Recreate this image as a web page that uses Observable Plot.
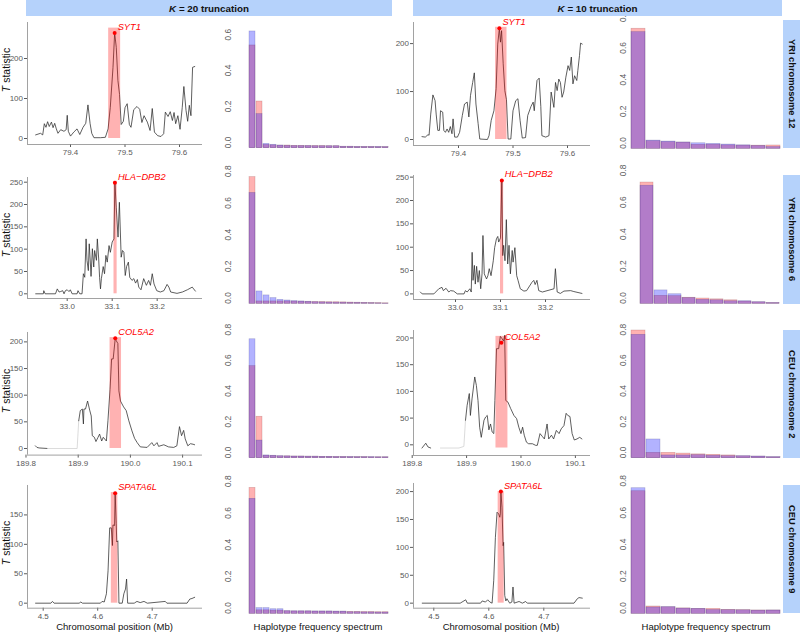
<!DOCTYPE html>
<html><head><meta charset="utf-8">
<script src="https://cdn.jsdelivr.net/npm/d3@7"></script>
<script src="https://cdn.jsdelivr.net/npm/@observablehq/plot@0.6"></script>
<style>
body{margin:0;background:#fff;}
#root{position:relative;width:800px;height:632px;overflow:hidden;font-family:"Liberation Sans",Arial,Helvetica,sans-serif;background:#fff;}
.strip{position:absolute;background:#b5d2fb;font-weight:bold;font-size:9.8px;color:#111;display:flex;align-items:center;justify-content:center;}
.rstrip{position:absolute;background:#b5d2fb;font-weight:bold;font-size:9.3px;color:#111;writing-mode:vertical-rl;display:flex;align-items:center;justify-content:center;}
.lab{position:absolute;font-size:9.5px;color:#111;white-space:nowrap;transform:translate(-50%,-50%);}
.ylab{position:absolute;font-size:10.5px;line-height:11px;color:#111;white-space:nowrap;transform:translate(-50%,-50%) rotate(-90deg);}
</style></head>
<body><div id="root"></div>
<script>
// ---------- data ----------
const truncations = [20, 10];
const rowLabels = ["YRI chromosome 12", "YRI chromosome 6", "CEU chromosome 2", "CEU chromosome 9"];
const genes = ["SYT1", "HLA\u2212DPB2", "COL5A2", "SPATA6L"];

// T statistic along chromosome: [position (Mb), T]
const syt1K20 = [[79.336,9],[79.345,13],[79.349,9],[79.352,37],[79.355,28],[79.358,42],[79.361,30],[79.365,41],[79.368,27],[79.371,38],[79.374,24],[79.377,13],[79.382,22],[79.388,18],[79.392,22],[79.394,58],[79.396,18],[79.4,6],[79.406,16],[79.412,24],[79.417,10],[79.423,28],[79.428,38],[79.432,84],[79.436,37],[79.439,13],[79.443,2],[79.455,2],[79.464,3],[79.469,24],[79.473,78],[79.478,178],[79.481,264],[79.484,228],[79.487,145],[79.49,110],[79.493,35],[79.497,43],[79.5,77],[79.504,87],[79.508,35],[79.511,28],[79.516,72],[79.522,80],[79.527,73],[79.531,40],[79.535,57],[79.541,41],[79.546,20],[79.55,75],[79.554,16],[79.56,7],[79.566,5],[79.571,12],[79.574,66],[79.579,55],[79.583,67],[79.587,45],[79.59,65],[79.593,37],[79.597,57],[79.601,23],[79.605,77],[79.608,130],[79.612,70],[79.615,43],[79.618,83],[79.621,57],[79.624,178],[79.628,180]];
const syt1K10 = [[79.333,6],[79.339,5],[79.344,10],[79.346,9],[79.349,53],[79.353,93],[79.357,81],[79.359,53],[79.362,19],[79.365,19],[79.367,60],[79.371,57],[79.373,19],[79.376,15],[79.379,22],[79.382,15],[79.385,27],[79.388,12],[79.39,43],[79.393,5],[79.398,5],[79.402,15],[79.407,50],[79.411,74],[79.416,78],[79.419,47],[79.422,92],[79.426,119],[79.429,139],[79.432,74],[79.436,33],[79.439,1],[79.453,0],[79.456,8],[79.46,40],[79.465,60],[79.469,106],[79.472,199],[79.475,232],[79.477,203],[79.479,227],[79.482,158],[79.485,102],[79.488,83],[79.491,1],[79.496,1],[79.5,60],[79.505,81],[79.509,85],[79.513,40],[79.517,3],[79.523,4],[79.527,50],[79.533,69],[79.537,78],[79.539,60],[79.544,123],[79.548,128],[79.551,69],[79.553,8],[79.56,5],[79.566,8],[79.57,99],[79.575,67],[79.578,119],[79.581,102],[79.584,126],[79.587,119],[79.59,88],[79.593,99],[79.597,130],[79.601,154],[79.604,144],[79.607,172],[79.61,116],[79.613,133],[79.617,123],[79.619,144],[79.622,175],[79.624,201],[79.627,199]];
const hlaK20 = [[32.93,0],[32.947,0],[32.948,7],[32.951,0],[32.974,0],[32.978,11],[32.982,4],[32.985,5],[32.99,7],[32.993,0],[32.996,7],[33.0,9],[33.004,5],[33.007,9],[33.011,0],[33.022,0],[33.024,7],[33.028,0],[33.033,0],[33.036,45],[33.039,37],[33.042,123],[33.044,75],[33.047,52],[33.049,112],[33.052,60],[33.053,39],[33.056,101],[33.059,60],[33.061,97],[33.065,75],[33.067,123],[33.07,78],[33.072,37],[33.074,11],[33.076,34],[33.08,61],[33.083,45],[33.086,86],[33.089,71],[33.093,108],[33.096,93],[33.1,116],[33.104,123],[33.106,249],[33.109,194],[33.113,127],[33.116,205],[33.12,82],[33.123,97],[33.126,93],[33.129,41],[33.132,61],[33.136,71],[33.139,37],[33.144,30],[33.148,34],[33.152,24],[33.156,32],[33.159,15],[33.164,9],[33.17,34],[33.176,19],[33.181,30],[33.185,19],[33.189,45],[33.193,22],[33.199,7],[33.207,4],[33.215,7],[33.222,21],[33.226,15],[33.23,4],[33.244,1],[33.256,4],[33.267,9],[33.278,15],[33.281,11],[33.285,6]];
const hlaK10 = [[32.922,4],[32.926,0],[32.952,0],[32.963,11],[32.97,14],[32.973,7],[32.979,12],[32.985,4],[32.989,7],[32.996,6],[33.004,0],[33.019,0],[33.022,7],[33.026,4],[33.032,11],[33.035,4],[33.037,89],[33.039,29],[33.042,61],[33.044,21],[33.047,59],[33.05,25],[33.053,50],[33.056,11],[33.059,43],[33.061,125],[33.064,43],[33.069,32],[33.072,39],[33.075,54],[33.079,39],[33.084,71],[33.087,99],[33.091,118],[33.094,123],[33.096,111],[33.1,120],[33.103,243],[33.105,82],[33.107,104],[33.11,71],[33.113,159],[33.116,64],[33.119,104],[33.122,43],[33.126,93],[33.128,68],[33.132,99],[33.136,39],[33.139,29],[33.144,11],[33.152,6],[33.158,7],[33.17,25],[33.174,29],[33.177,20],[33.181,29],[33.185,7],[33.193,4],[33.219,11],[33.222,54],[33.226,4],[33.233,1],[33.241,6],[33.256,7],[33.263,5],[33.281,1]];
const col5a2K20 = [[189.818,5],[189.821,2],[189.825,1],[189.841,0],[189.898,0],[189.901,52],[189.904,71],[189.908,74],[189.91,46],[189.911,74],[189.914,74],[189.918,89],[189.922,72],[189.925,61],[189.927,24],[189.931,21],[189.934,13],[189.938,21],[189.941,27],[189.945,14],[189.948,21],[189.954,14],[189.957,52],[189.961,111],[189.964,168],[189.967,168],[189.971,207],[189.973,202],[189.976,197],[189.978,108],[189.981,89],[189.987,78],[189.992,71],[189.997,52],[190.003,33],[190.008,19],[190.013,11],[190.019,3],[190.032,2],[190.041,11],[190.045,5],[190.051,11],[190.054,4],[190.064,7],[190.073,3],[190.083,2],[190.089,5],[190.094,41],[190.098,24],[190.102,34],[190.105,18],[190.11,5],[190.115,9],[190.12,8],[190.123,7]];
const col5a2K10 = [[189.818,-6],[189.825,3],[189.829,-4],[189.834,-6],[189.852,-6],[189.886,-6],[189.895,-3],[189.898,46],[189.901,74],[189.905,96],[189.907,55],[189.91,86],[189.915,127],[189.918,111],[189.921,83],[189.924,33],[189.927,14],[189.932,46],[189.935,52],[189.938,55],[189.941,28],[189.944,39],[189.947,24],[189.95,21],[189.952,83],[189.955,180],[189.959,180],[189.962,203],[189.965,199],[189.968,194],[189.97,205],[189.972,83],[189.976,80],[189.981,68],[189.987,55],[189.992,49],[189.996,33],[190.0,21],[190.003,33],[190.006,18],[190.01,5],[190.014,2],[190.021,2],[190.027,-1],[190.03,-1],[190.035,21],[190.039,16],[190.043,11],[190.048,39],[190.051,11],[190.056,18],[190.06,11],[190.065,27],[190.07,21],[190.074,30],[190.079,36],[190.083,59],[190.086,55],[190.09,53],[190.094,21],[190.098,9],[190.103,11],[190.108,14],[190.112,11]];
const spata6lK20 = [[4.486,0],[4.514,0],[4.517,3],[4.52,0],[4.566,0],[4.569,2],[4.572,0],[4.605,0],[4.608,3],[4.612,2],[4.616,16],[4.619,55],[4.622,128],[4.625,128],[4.627,98],[4.628,133],[4.631,132],[4.632,187],[4.634,135],[4.635,104],[4.637,106],[4.639,0],[4.645,0],[4.648,16],[4.651,24],[4.653,41],[4.655,0],[4.667,0],[4.672,3],[4.678,1],[4.685,3],[4.691,0],[4.724,3],[4.727,0],[4.764,0],[4.769,7],[4.773,8],[4.778,10]];
const spata6lK10 = [[4.479,0],[4.548,0],[4.553,3],[4.558,6],[4.561,0],[4.585,0],[4.588,4],[4.594,2],[4.598,6],[4.602,2],[4.606,0],[4.609,41],[4.612,118],[4.615,163],[4.618,160],[4.62,154],[4.621,160],[4.622,200],[4.624,172],[4.626,103],[4.627,109],[4.629,14],[4.631,4],[4.633,8],[4.638,0],[4.642,2],[4.644,29],[4.646,0],[4.655,3],[4.661,0],[4.667,3],[4.67,0],[4.755,0],[4.761,8],[4.764,10],[4.77,9]];

// gene regions (Mb) and band heights
const geneStartK20 = [79.470, 33.104, 189.961, 4.625];
const geneEndK20   = [79.492, 33.111, 189.983, 4.637];
const bandTopK20   = [276, 252, 208, 188];
const geneStartK10 = [79.468, 33.100, 189.954, 4.617];
const geneEndK10   = [79.489, 33.107, 189.976, 4.628];
const bandTopK10   = [234, 243, 203, 200];
const bandBottomK10 = [0, 0, -6, 0];
// highlighted peak SNPs
const peakPosK20 = [79.481, 33.106, 189.971, 4.632];
const peakTK20   = [264, 249, 207, 187];
const peakPosK10 = [79.475, 33.103, 189.964, 4.622];
const peakTK10   = [232, 243, 191, 200];

// haplotype frequency spectra (red / blue series)
const yri12K20Red  = [0.572,0.26,0.018,0.016,0.014,0.015,0.013,0.013,0.012,0.012,0.012,0.011,0.011,0.008,0.008,0.007,0.007,0.007,0.006,0.006];
const yri12K20Blue = [0.65,0.19,0.024,0.019,0.015,0.013,0.012,0.012,0.012,0.011,0.011,0.011,0.011,0.008,0.008,0.007,0.007,0.007,0.007,0.006];
const yri12K10Red  = [0.758,0.048,0.042,0.039,0.025,0.026,0.022,0.02,0.02,0.021];
const yri12K10Blue = [0.737,0.052,0.046,0.04,0.035,0.031,0.027,0.022,0.018,0.011];
const yri6K20Red   = [0.80,0.015,0.015,0.015,0.015,0.015,0.014,0.013,0.012,0.011,0.011,0.01,0.01,0.009,0.008,0.007,0.006,0.005,0.004,0.003];
const yri6K20Blue  = [0.70,0.078,0.053,0.036,0.025,0.021,0.017,0.015,0.013,0.01,0.009,0.008,0.007,0.007,0.006,0.006,0.005,0.004,0.003,0.002];
const yri6K10Red   = [0.76,0.05,0.048,0.038,0.033,0.028,0.022,0.014,0.009,0.005];
const yri6K10Blue  = [0.74,0.084,0.06,0.036,0.025,0.022,0.016,0.016,0.01,0.005];
const ceu2K20Red   = [0.60,0.27,0.016,0.015,0.012,0.012,0.011,0.011,0.01,0.01,0.009,0.009,0.008,0.008,0.007,0.007,0.007,0.006,0.006,0.006];
const ceu2K20Blue  = [0.775,0.115,0.018,0.016,0.013,0.012,0.011,0.011,0.01,0.01,0.009,0.009,0.008,0.008,0.008,0.007,0.007,0.007,0.006,0.006];
const ceu2K10Red   = [0.832,0.035,0.035,0.03,0.025,0.022,0.018,0.012,0.01,0.006];
const ceu2K10Blue  = [0.804,0.122,0.018,0.018,0.02,0.016,0.013,0.013,0.011,0.007];
const ceu9K20Red   = [0.795,0.022,0.022,0.02,0.02,0.016,0.015,0.015,0.015,0.014,0.014,0.014,0.013,0.013,0.012,0.012,0.011,0.011,0.01,0.01];
const ceu9K20Blue  = [0.726,0.036,0.036,0.029,0.029,0.017,0.016,0.016,0.016,0.015,0.015,0.015,0.014,0.014,0.01,0.01,0.009,0.009,0.008,0.008];
const ceu9K10Red   = [0.771,0.046,0.041,0.034,0.031,0.031,0.025,0.023,0.021,0.021];
const ceu9K10Blue  = [0.79,0.04,0.042,0.033,0.031,0.024,0.023,0.022,0.02,0.021];

// tick values
const xTicksRows = [[79.4,79.5,79.6],[33.0,33.1,33.2],[189.8,189.9,190.0,190.1],[4.5,4.6,4.7]];
const hfsTicks = [0,0.2,0.4,0.6,0.8];

// ---------- drawing ----------
const FONT = '"Liberation Sans", Arial, Helvetica, sans-serif';
const root = document.getElementById("root");
function place(el, left, top) {
  el.style.position = "absolute"; el.style.left = left + "px"; el.style.top = top + "px";
  root.appendChild(el);
}
function html(cls, text, css) {
  const d = document.createElement("div"); d.className = cls; d.innerHTML = text;
  Object.assign(d.style, css); root.appendChild(d); return d;
}
const baseStyle = {fontFamily: FONT, fontSize: "8px", color: "#5a5a5a", background: "transparent", overflow: "visible"};

function linePanel(p) {
  const mL = 32, mR = 6, mT = 14, mB = 16;
  const w = p.x1 - p.x0, h = p.yb - p.yt;
  const data = p.data.map(d => ({pos: d[0], t: d[1]}));
  const lineOpts = {x: "pos", y: "t", stroke: "#2a2a2a", strokeWidth: 0.75};
  const marks = [];
  if (p.fade) {
    marks.push(Plot.line(data.filter(d => d.pos <= p.fade[0]), lineOpts));
    marks.push(Plot.line(data.filter(d => d.pos >= p.fade[0] && d.pos <= p.fade[1]), {...lineOpts, stroke: "#cfcfcf"}));
    marks.push(Plot.line(data.filter(d => d.pos >= p.fade[1]), lineOpts));
  } else {
    marks.push(Plot.line(data, lineOpts));
  }
  marks.push(Plot.rect([p.band], {x1: "start", x2: "end", y1: "lo", y2: "hi", fill: "red", fillOpacity: 0.3}));
  marks.push(Plot.dot([p.peak], {x: "pos", y: "t", r: 2, fill: "red", stroke: "none"}));
  marks.push(Plot.text([p.peak], {x: "pos", y: "t", text: "gene", dx: 3, dy: -6, textAnchor: "start",
    fill: "red", fontStyle: "italic", fontSize: 9.3, fontFamily: FONT}));
  marks.push(Plot.ruleX([p.xd[0]], {stroke: "#8a8a8a", strokeWidth: 0.8}));
  marks.push(Plot.ruleY([p.yd[0]], {stroke: "#8a8a8a", strokeWidth: 0.8}));
  const svg = Plot.plot({
    width: w + mL + mR, height: h + mT + mB,
    marginLeft: mL, marginRight: mR, marginTop: mT, marginBottom: mB,
    x: {domain: p.xd, ticks: p.xt, tickFormat: d3.format(".1f"), tickSize: 3, tickPadding: 2, label: null},
    y: {domain: p.yd, ticks: p.ytk, tickFormat: d3.format("d"), tickSize: 3, tickPadding: 1.5, label: null},
    style: baseStyle,
    marks
  });
  place(svg, p.x0 - mL, p.yt - mT);
}

function histPanel(p) {
  const mL = 22, mR = 2, mT = 4, mB = 4;
  const w = p.x1 - p.x0, h = p.yb - p.yt;
  const idx = d3.range(p.red.length);
  const red = idx.map(i => ({i, v: p.red[i]}));
  const blue = idx.map(i => ({i, v: p.blue[i]}));
  const ticks = hfsTicks.filter(t => t <= p.ymax + 1e-9);
  const svg = Plot.plot({
    width: w + mL + mR, height: h + mT + mB,
    marginLeft: mL, marginRight: mR, marginTop: mT, marginBottom: mB,
    x: {type: "band", domain: idx, paddingInner: 0.1, paddingOuter: 0, axis: null},
    y: {domain: [0, p.ymax], axis: null},
    style: baseStyle,
    marks: [
      Plot.barY(red, {x: "i", y: "v", fill: "red", fillOpacity: 0.3, stroke: "#7a2a2a", strokeOpacity: 0.3, strokeWidth: 0.6}),
      Plot.barY(blue, {x: "i", y: "v", fill: "blue", fillOpacity: 0.3, stroke: "#2a2a7a", strokeOpacity: 0.3, strokeWidth: 0.6}),
      Plot.text(ticks, {y: d => d, text: d => d3.format(".1f")(d), frameAnchor: "left", dx: p.labelX - p.x0,
        rotate: -90, fill: "#5a5a5a", fontSize: 8.4, fontFamily: FONT})
    ]
  });
  place(svg, p.x0 - mL, p.yt - mT);
}

const mk = (i, s, e, lo, hi) => ({start: s[i], end: e[i], lo, hi});

// row geometry
const lineK20 = [
  {x0: 27, x1: 202, yt: 22, yb: 144, xd: [79.3211, 79.6422], yd: [-15, 290], ytk: [0,100,200], data: syt1K20},
  {x0: 27, x1: 202, yt: 177, yb: 298, xd: [32.9118, 33.3007], yd: [-10.5, 260.5], ytk: [0,50,100,150,200,250], data: hlaK20},
  {x0: 27, x1: 202, yt: 331.7, yb: 454.3, xd: [189.8029, 190.1381], yd: [-12.4, 217.6], ytk: [0,50,100,150,200], data: col5a2K20, fade: [189.841, 189.901]},
  {x0: 27, x1: 202, yt: 485, yb: 607.7, xd: [4.4712, 4.7923], yd: [-8.5, 200], ytk: [0,50,100,150], data: spata6lK20}
];
const lineK10 = [
  {x0: 413, x1: 590, yt: 22, yb: 145, xd: [79.3174, 79.6422], yd: [-12.5, 244], ytk: [0,100,200], data: syt1K10},
  {x0: 413, x1: 590, yt: 175, yb: 299, xd: [32.9067, 33.3], yd: [-12, 253.5], ytk: [0,50,100,150,200,250], data: hlaK10},
  {x0: 413, x1: 590, yt: 330, yb: 455, xd: [189.8024, 190.1278], yd: [-20, 214], ytk: [0,50,100,150,200], data: col5a2K10, fade: [189.84, 189.898]},
  {x0: 413, x1: 590, yt: 483, yb: 607.7, xd: [4.4631, 4.7849], yd: [-9, 214.5], ytk: [0,50,100,150,200], data: spata6lK10}
];
lineK20.forEach((p, i) => linePanel({...p, xt: xTicksRows[i],
  band: mk(i, geneStartK20, geneEndK20, 0, bandTopK20[i]),
  peak: {pos: peakPosK20[i], t: peakTK20[i], gene: genes[i]}}));
lineK10.forEach((p, i) => linePanel({...p, xt: xTicksRows[i],
  band: mk(i, geneStartK10, geneEndK10, bandBottomK10[i], bandTopK10[i]),
  peak: {pos: peakPosK10[i], t: peakTK10[i], gene: genes[i]}}));

const hist = [
  {x0: 241, x1: 396, yt: 20, yb: 147.7, ymax: 0.711, red: yri12K20Red, blue: yri12K20Blue, labelX: 228},
  {x0: 628, x1: 783, yt: 20, yb: 148.3, ymax: 0.81, red: yri12K10Red, blue: yri12K10Blue, labelX: 622.7},
  {x0: 241, x1: 396, yt: 175, yb: 303.3, ymax: 0.81, red: yri6K20Red, blue: yri6K20Blue, labelX: 228},
  {x0: 636, x1: 783, yt: 175, yb: 303.3, ymax: 0.804, red: yri6K10Red, blue: yri6K10Blue, labelX: 622.7},
  {x0: 241, x1: 396, yt: 330, yb: 457.7, ymax: 0.832, red: ceu2K20Red, blue: ceu2K20Blue, labelX: 228},
  {x0: 628, x1: 783, yt: 330, yb: 457.7, ymax: 0.832, red: ceu2K10Red, blue: ceu2K10Blue, labelX: 622.7},
  {x0: 241, x1: 396, yt: 485, yb: 613.3, ymax: 0.81, red: ceu9K20Red, blue: ceu9K20Blue, labelX: 228},
  {x0: 628, x1: 783, yt: 485, yb: 613.3, ymax: 0.807, red: ceu9K10Red, blue: ceu9K10Blue, labelX: 622.7}
];
hist.forEach(histPanel);

// strips
html("strip", `<i>K</i>&nbsp;=&nbsp;${truncations[0]} truncation`, {left: "26px", top: "0px", width: "366px", height: "16px"});
html("strip", `<i>K</i>&nbsp;=&nbsp;${truncations[1]} truncation`, {left: "413px", top: "0px", width: "369px", height: "16px"});
const stripRows = [[20, 148], [175, 304], [330, 458], [485, 613]];
stripRows.forEach(([a, b], i) => html("rstrip", rowLabels[i], {left: "783px", top: a + "px", width: "17px", height: (b - a) + "px"}));

// axis titles
const tCenters = [70, 235, 391, 543];
tCenters.forEach(c => html("ylab", "<i>T</i> statistic", {left: "5.5px", top: c + "px"}));
html("lab", "Chromosomal position (Mb)", {left: "114.5px", top: "625.5px"});
html("lab", "Chromosomal position (Mb)", {left: "501px", top: "625.5px"});
html("lab", "Haplotype frequency spectrum", {left: "318px", top: "625.5px"});
html("lab", "Haplotype frequency spectrum", {left: "706px", top: "625.5px"});
</script></body></html>
